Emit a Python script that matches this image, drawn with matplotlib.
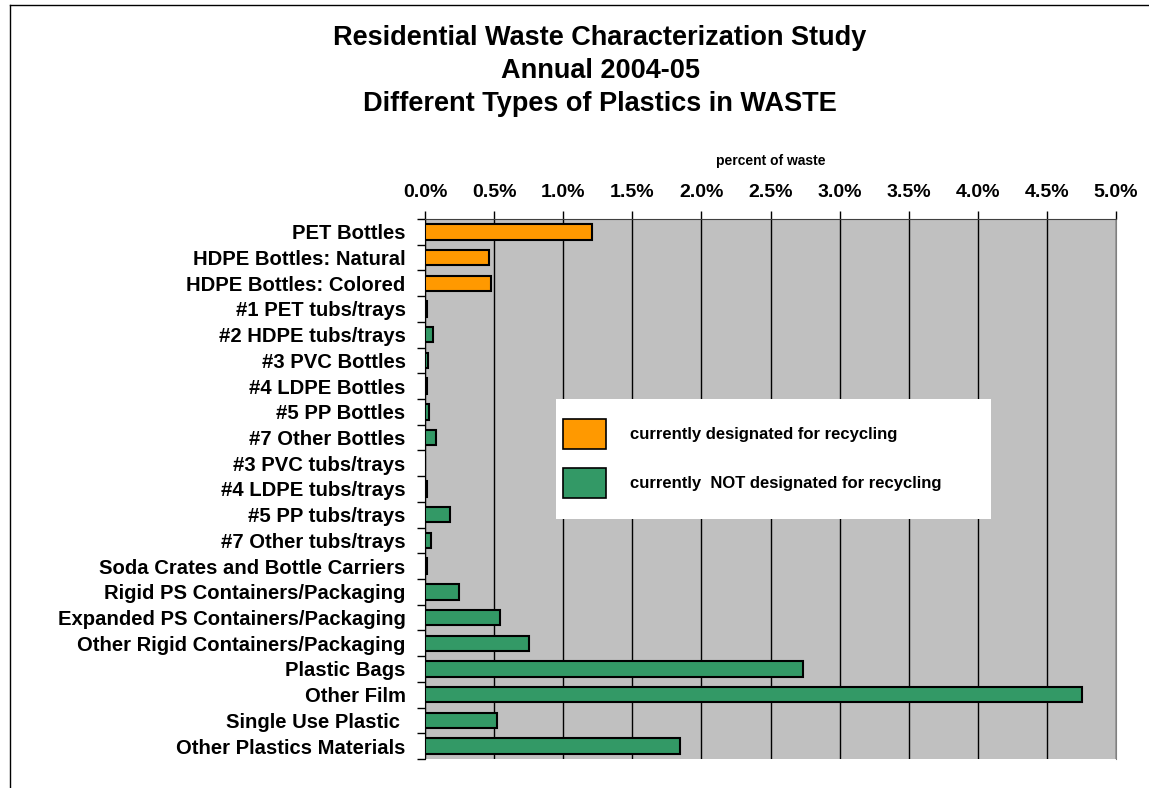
import matplotlib
matplotlib.use("Agg")
import matplotlib.pyplot as plt
from matplotlib.patches import Patch, Rectangle
from matplotlib.lines import Line2D
from matplotlib.ticker import FuncFormatter

plt.rcParams["font.family"] = ["Liberation Sans", "DejaVu Sans"]
plt.rcParams["font.weight"] = "bold"

categories = [
    "PET Bottles", "HDPE Bottles: Natural", "HDPE Bottles: Colored",
    "#1 PET tubs/trays", "#2 HDPE tubs/trays", "#3 PVC Bottles",
    "#4 LDPE Bottles", "#5 PP Bottles", "#7 Other Bottles",
    "#3 PVC tubs/trays", "#4 LDPE tubs/trays", "#5 PP tubs/trays",
    "#7 Other tubs/trays", "Soda Crates and Bottle Carriers",
    "Rigid PS Containers/Packaging", "Expanded PS Containers/Packaging",
    "Other Rigid Containers/Packaging", "Plastic Bags", "Other Film",
    "Single Use Plastic ", "Other Plastics Materials",
]
# percent of waste
values = [1.21, 0.46, 0.48, 0.012, 0.06, 0.02, 0.012, 0.027, 0.077, 0.0,
          0.012, 0.178, 0.046, 0.017, 0.248, 0.54, 0.755, 2.733, 4.754,
          0.519, 1.847]
recycled = [True, True, True] + [False] * 18

ORANGE = "#FF9900"
GREEN = "#339966"
colors = [ORANGE if r else GREEN for r in recycled]

W, H = 1149, 788
fig = plt.figure(figsize=(W / 100, H / 100), dpi=100)
ax = fig.add_axes([425 / W, 1 - 759 / H, (1116 - 425) / W, (759 - 219) / H])
ax.set_facecolor("#C0C0C0")

y = list(range(len(categories)))
ax.barh(y, values, height=0.6, color=colors, edgecolor="black",
        linewidth=1.5, zorder=3)

ax.set_xlim(0, 5)
ax.set_ylim(len(categories) - 0.5, -0.5)
ax.set_xticks([i * 0.5 for i in range(11)])
ax.xaxis.set_major_formatter(FuncFormatter(lambda v, p: f"{v:.1f}%"))
ax.xaxis.tick_top()
ax.xaxis.set_label_position("top")
ax.tick_params(axis="x", direction="out", length=6, width=1, pad=7,
               labelsize=14)
ax.set_xlabel("percent of waste", fontsize=10, fontweight="bold", labelpad=13.7)

ax.set_yticks(y)
ax.set_yticklabels(categories)
ax.set_yticks([i - 0.5 for i in range(len(categories) + 1)], minor=True)
ax.tick_params(axis="y", which="major", length=0, pad=14, labelsize=14.6)
ax.tick_params(axis="y", which="minor", direction="out", length=6, width=1)

ax.grid(axis="x", color="black", linewidth=1, zorder=1)
ax.set_axisbelow(True)
ax.spines["bottom"].set_visible(False)
ax.spines["right"].set_color("#808080")
ax.spines["top"].set_color("#404040")
ax.spines["left"].set_color("black")

# legend panel
fig.patches.append(Rectangle((556 / W, 1 - 519 / H), (991 - 556) / W,
                             (519 - 399) / H, transform=fig.transFigure,
                             facecolor="white", edgecolor="none", zorder=5))
handles = [Patch(facecolor=ORANGE, edgecolor="black", linewidth=1.2),
           Patch(facecolor=GREEN, edgecolor="black", linewidth=1.2)]
leg = fig.legend(handles, ["currently designated for recycling",
                           "currently  NOT designated for recycling"],
                 loc="upper left", bbox_to_anchor=(563 / W, 1 - 419 / H),
                 frameon=False, fontsize=12, handlelength=2.58,
                 handleheight=2.4, labelspacing=1.14, handletextpad=1.45,
                 borderpad=0, borderaxespad=0)
leg.set_zorder(6)
for t in leg.get_texts():
    t.set_fontweight("bold")

titles = ["Residential Waste Characterization Study", "Annual 2004-05",
          "Different Types of Plastics in WASTE"]
for i, t in enumerate(titles):
    fig.text(600 / W, 1 - (38 + 33 * i) / H, t, ha="center", va="center",
             fontsize=19.5, fontweight="bold")

# chart frame (top and left edges)
fig.add_artist(Line2D([10 / W, 1], [1 - 5 / H, 1 - 5 / H],
                      transform=fig.transFigure, color="black", linewidth=1))
fig.add_artist(Line2D([10 / W, 10 / W], [0, 1 - 5 / H],
                      transform=fig.transFigure, color="black", linewidth=1))

fig.savefig("out.png", dpi=100)
